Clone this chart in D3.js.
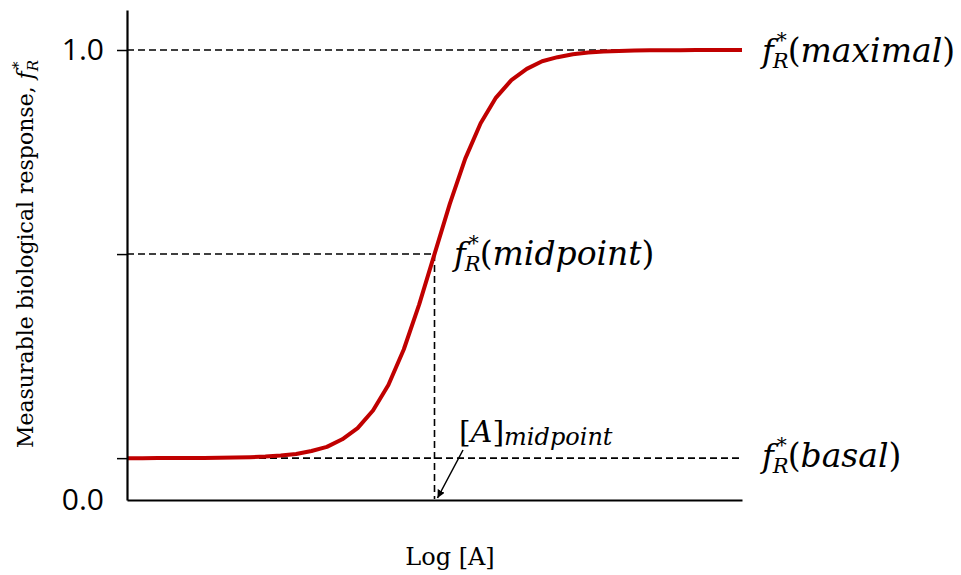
<!DOCTYPE html>
<html>
<head>
<meta charset="utf-8">
<script src="https://cdn.jsdelivr.net/npm/d3@7"></script>
<style>
  html, body { margin: 0; padding: 0; background: #fff; }
  svg { display: block; }
</style>
</head>
<body>
<svg id="chart" width="961" height="575"></svg>
<script>
// ---- data ----
const logA = [-4.0,-3.8,-3.6,-3.4,-3.2,-3.0,-2.8,-2.6,-2.4,-2.2,-2.0,-1.8,-1.6,-1.4,-1.2,-1.0,-0.8,-0.6,-0.4,-0.2,
              0.0,0.2,0.4,0.6,0.8,1.0,1.2,1.4,1.6,1.8,2.0,2.2,2.4,2.6,2.8,3.0,3.2,3.4,3.6,3.8,4.0];
const response = [0.091,0.091,0.0911,0.0912,0.0913,0.0915,0.0918,0.0923,0.0931,0.0945,0.0967,0.1004,0.107,0.116,0.133,0.158,0.197,0.254,0.333,0.433,
                  0.5455,0.658,0.758,0.837,0.894,0.933,0.958,0.975,0.984,0.9906,0.9943,0.9965,0.9979,0.9987,0.9992,0.9995,0.9997,0.9998,0.9999,1.0,1.0];
const levelBasal = 0.091;
const levelMid = 0.5455;
const levelMax = 1.0;
const midLogA = 0.0;
const yTickLabels = ["0.0", "1.0"];
const levelNames = ["maximal", "midpoint", "basal"];
const xLabel = "Log [A]";
const yLabel = "Measurable biological response, ";

// ---- layout ----
const svg = d3.select("#chart");
const x = d3.scaleLinear().domain([-4, 4]).range([127, 742]);
const y = d3.scaleLinear().domain([0, 1]).range([499, 50]);

const dashStyle = "7,4";
const serif = "'DejaVu Serif', serif";

// reference dashed lines
function hdash(v, x1) {
  svg.append("line")
    .attr("x1", x(-4)).attr("x2", x1)
    .attr("y1", y(v)).attr("y2", y(v))
    .attr("stroke", "#000").attr("stroke-width", 1.6)
    .attr("stroke-dasharray", dashStyle);
}
hdash(levelMax, x(4));
hdash(levelMid, x(midLogA));
hdash(levelBasal, x(4));
svg.append("line")
  .attr("x1", x(midLogA)).attr("x2", x(midLogA))
  .attr("y1", y(levelMid)).attr("y2", y(0))
  .attr("stroke", "#000").attr("stroke-width", 1.6)
  .attr("stroke-dasharray", dashStyle);

// curve
const line = d3.line().x((d, i) => x(logA[i])).y(d => y(d));
svg.append("path")
  .datum(response)
  .attr("d", line)
  .attr("fill", "none")
  .attr("stroke", "#C00000")
  .attr("stroke-width", 4)
  .attr("stroke-linejoin", "round");

// axes
const yAxisScale = y.copy().domain([y.invert(500), y.invert(10)]).range([500, 10]);
const yAxis = d3.axisLeft(yAxisScale)
  .tickValues([levelBasal, levelMid, levelMax])
  .tickSize(10).tickSizeOuter(0).tickPadding(13)
  .tickFormat(d => d === levelMax ? yTickLabels[1] : "");
const gy = svg.append("g").attr("transform", `translate(${x(-4)},0)`).call(yAxis);
gy.select(".domain").attr("stroke-width", 2.2);
gy.selectAll(".tick line").attr("stroke-width", 1.5);
gy.selectAll(".tick text").attr("font-family", "'Open Sans', sans-serif").attr("font-size", 30).attr("fill", "#000");

svg.append("text")
  .attr("x", x(-4) - 23).attr("y", y(0))
  .attr("dy", "0.36em")
  .attr("text-anchor", "end")
  .attr("font-family", "'Open Sans', sans-serif").attr("font-size", 30)
  .text(yTickLabels[0]);

const xAxis = d3.axisBottom(x).tickValues([]).tickSizeOuter(0);
const gx = svg.append("g").attr("transform", `translate(0,500)`).call(xAxis);
gx.select(".domain").attr("stroke-width", 2.2);

// math labels f_R^*(name)
function fLabel(x0, base, name) {
  const t = svg.append("text").attr("x", x0).attr("y", base)
    .attr("font-family", serif).attr("fill", "#000").attr("font-size", 33);
  t.append("tspan").attr("font-style", "italic").attr("font-size", 32).text("f");
  t.append("tspan").attr("font-size", 21).attr("font-style", "italic").attr("dx", -1).attr("dy", 6).text("R");
  t.append("tspan").attr("font-size", 20).attr("dx", -12).attr("dy", -21).text("*");
  t.append("tspan").attr("dx", 1).attr("dy", 15).text("(");
  t.append("tspan").attr("font-style", "italic").text(name);
  t.append("tspan").text(")");
}
fLabel(762, 62, levelNames[0]);
fLabel(454, 265, levelNames[1]);
fLabel(762, 467, levelNames[2]);

// [A]_midpoint
const am = svg.append("text").attr("x", 459).attr("y", 442).attr("font-family", serif).attr("fill", "#000");
am.append("tspan").attr("font-size", 30).text("[");
am.append("tspan").attr("font-size", 30).attr("font-style", "italic").text("A");
am.append("tspan").attr("font-size", 30).text("]");
am.append("tspan").attr("font-size", 24).attr("font-style", "italic").attr("dy", 3).text("midpoint");

// arrow
svg.append("defs").append("marker")
  .attr("id", "ah").attr("viewBox", "0 0 10 10")
  .attr("refX", 10).attr("refY", 5)
  .attr("markerWidth", 8).attr("markerHeight", 8)
  .attr("markerUnits", "userSpaceOnUse")
  .attr("orient", "auto")
  .append("path").attr("d", "M0,0 L10,5 L0,10 z").attr("fill", "#000");
svg.append("line")
  .attr("x1", 463).attr("y1", 450).attr("x2", x(midLogA) + 3).attr("y2", 498)
  .attr("stroke", "#000").attr("stroke-width", 1.5)
  .attr("marker-end", "url(#ah)");

// axis titles
svg.append("text")
  .attr("x", 450).attr("y", 565)
  .attr("text-anchor", "middle")
  .attr("font-family", serif).attr("font-size", 24)
  .text(xLabel);

const yl = svg.append("text")
  .attr("transform", `translate(33,254) rotate(-90)`)
  .attr("text-anchor", "middle")
  .attr("font-family", serif).attr("font-size", 22);
yl.append("tspan").text(yLabel);
yl.append("tspan").attr("font-style", "italic").text("f");
yl.append("tspan").attr("font-style", "italic").attr("font-size", 15).attr("dy", 5).text("R");
yl.append("tspan").attr("font-size", 15).attr("dx", -9).attr("dy", -15).text("*");
</script>
</body>
</html>
